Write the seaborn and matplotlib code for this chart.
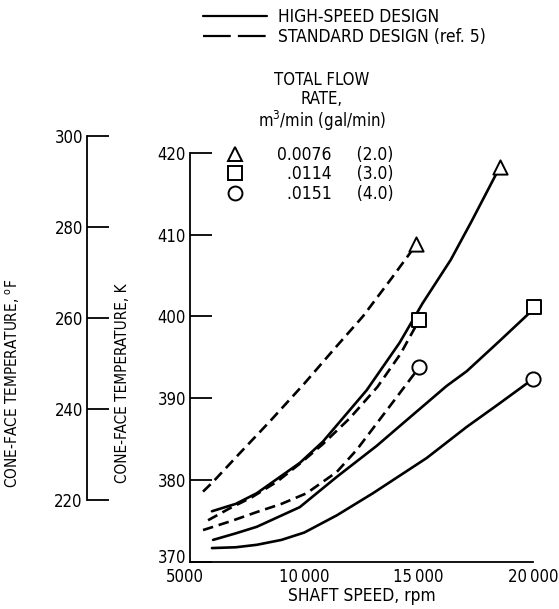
import matplotlib
matplotlib.use("Agg")
import matplotlib.pyplot as plt
import matplotlib.transforms as mtransforms
from matplotlib.lines import Line2D
import seaborn as sns
import pandas as pd

# shaft speed (rpm) and cone-face temperature (K)
hs_0076_speed = [5960, 7000, 7920, 9800, 10810, 12730, 14170, 15170, 16400, 17310, 18540]
hs_0076_temp = [376.2, 377.1, 378.4, 382.1, 384.7, 391.0, 396.8, 401.6, 406.9, 411.6, 418.2]
std_0076_speed = [5570, 6010, 7180, 8500, 10000, 11300, 12560, 13800, 14900]
std_0076_temp = [378.6, 379.8, 383.3, 387.2, 391.8, 396.0, 400.0, 404.6, 408.8]

hs_0114_speed = [6010, 7000, 7920, 9800, 11420, 13170, 14170, 16220, 17100, 18500, 19760, 20050]
hs_0114_temp = [372.7, 373.5, 374.3, 376.7, 380.4, 384.2, 386.6, 391.5, 393.3, 396.9, 400.2, 401.1]
std_0114_speed = [5790, 6700, 7700, 8800, 9800, 10810, 12000, 13200, 14200, 15030]
std_0114_temp = [375.1, 376.5, 377.9, 379.8, 382.0, 384.4, 387.6, 391.4, 395.4, 399.6]

hs_0151_speed = [5960, 7000, 7920, 9000, 10000, 11420, 13000, 15350, 17100, 18500, 20020]
hs_0151_temp = [371.7, 371.8, 372.1, 372.7, 373.6, 375.7, 378.4, 382.7, 386.5, 389.3, 392.4]
std_0151_speed = [5570, 6800, 7920, 9000, 10100, 11420, 12290, 13730, 15030]
std_0151_temp = [373.9, 375.0, 376.1, 377.1, 378.4, 381.0, 383.7, 389.0, 393.8]

# U+2007 is a digit-wide space so the gal/min column lines up
rate_labels = ["0.0076     (2.0)", "\u2007.0114     (3.0)", "\u2007.0151     (4.0)"]
rate_markers = ["^", "s", "o"]
design_labels = ["HIGH-SPEED DESIGN", "STANDARD DESIGN (ref. 5)"]

x_ticks = [5000, 10000, 15000, 20000]
x_ticklabels = ["5000", "10\u2009000", "15\u2009000", "20\u2009000"]
k_ticks = [370, 380, 390, 400, 410, 420]
f_ticks = [220, 240, 260, 280, 300]


def k_to_f(k):
    return k * 9.0 / 5.0 - 459.67


def f_to_k(f):
    return (f + 459.67) * 5.0 / 9.0


curves = [
    (hs_0076_speed, hs_0076_temp, "solid", 0),
    (std_0076_speed, std_0076_temp, "dashed", 0),
    (hs_0114_speed, hs_0114_temp, "solid", 1),
    (std_0114_speed, std_0114_temp, "dashed", 1),
    (hs_0151_speed, hs_0151_temp, "solid", 2),
    (std_0151_speed, std_0151_temp, "dashed", 2),
]

sns.set_theme(style="white")
plt.rcParams["font.family"] = ["DejaVu Sans"]
plt.rcParams["font.stretch"] = "condensed"
plt.rcParams["text.color"] = "black"
plt.rcParams["axes.labelcolor"] = "black"
plt.rcParams["xtick.color"] = "black"
plt.rcParams["ytick.color"] = "black"

fs = 11

fig = plt.figure(figsize=(5.59, 6.09), dpi=100)
ax = fig.add_axes([190 / 559, 1 - 562 / 609, 343 / 559, (562 - 136) / 609])

lw = 1.9
for speed, temp, style, m in curves:
    df = pd.DataFrame({"speed": speed, "temp": temp})
    sns.lineplot(data=df, x="speed", y="temp", ax=ax, color="black",
                 lw=lw, sort=False, estimator=None)
    ln = ax.lines[-1]
    if style == "dashed":
        ln.set_dashes((4.0, 2.2))
    end = df.iloc[[-1]]
    sns.scatterplot(data=end, x="speed", y="temp", ax=ax, marker=rate_markers[m],
                    s=105, facecolor="white", edgecolor="black", linewidth=1.4,
                    zorder=5, clip_on=False)

ax.set_xlim(5000, 20000)
ax.set_ylim(370, f_to_k(300))
ax.set_xticks(x_ticks)
ax.set_xticklabels(x_ticklabels)
ax.set_yticks(k_ticks)
ax.spines["left"].set_bounds(370, 420)
for s in ["top", "right"]:
    ax.spines[s].set_visible(False)
for s in ["left", "bottom"]:
    ax.spines[s].set_color("black")
    ax.spines[s].set_linewidth(1.3)
ax.tick_params(axis="both", direction="in", length=16, width=1.3,
               labelsize=fs + 1, pad=3)
ax.tick_params(axis="x", pad=4)
ax.tick_params(axis="y", left=True)
ax.set_xlabel("SHAFT SPEED, rpm", fontsize=fs + 1.5, va="center")
ax.set_ylabel("CONE-FACE TEMPERATURE, K", fontsize=fs)
ax.xaxis.set_label_coords(0.5, -0.079)
ax.yaxis.set_label_coords(-0.175, 0.42)
ax.grid(False)

# lift the lowest K label a little off the x labels
fig.canvas.draw()
lab370 = ax.get_yticklabels()[0]
lab370.set_transform(lab370.get_transform()
                     + mtransforms.ScaledTranslation(0, 4 / 72, fig.dpi_scale_trans))
lab5000 = ax.get_xticklabels()[0]
lab5000.set_transform(lab5000.get_transform()
                      + mtransforms.ScaledTranslation(-4 / 72, 0, fig.dpi_scale_trans))

# Fahrenheit scale on a second spine
axf = ax.twinx()
axf.set_ylim(k_to_f(370), k_to_f(f_to_k(300)))
axf.yaxis.tick_left()
axf.yaxis.set_label_position("left")
axf.spines["left"].set_position(("axes", -(190 - 87) / 343))
axf.spines["left"].set_bounds(220, 300)
axf.spines["left"].set_color("black")
axf.spines["left"].set_linewidth(1.3)
for s in ["top", "right", "bottom"]:
    axf.spines[s].set_visible(False)
axf.set_yticks(f_ticks)
axf.tick_params(axis="y", direction="in", length=16, width=1.3,
                labelsize=fs + 1, pad=3)
axf.set_ylabel("CONE-FACE TEMPERATURE, $^{\\mathrm{o}}$F", fontsize=fs)
axf.yaxis.set_label_coords(-0.49, 0.42)
axf.grid(False)

# legends
style_handles = [Line2D([], [], color="black", lw=1.6),
                 Line2D([], [], color="black", lw=1.6, dashes=(12.5, 3.2))]
fig.legend(style_handles, design_labels, loc="upper left",
           bbox_to_anchor=(196 / 559, 1 - 1 / 609), frameon=False,
           handlelength=3.7, handletextpad=0.65, labelspacing=0.12, fontsize=fs + 1.5,
           borderaxespad=0)

fig.text(322 / 559, 1 - 71 / 609, "TOTAL FLOW\nRATE,\nm$^3$/min (gal/min)",
         ha="center", va="top", fontsize=fs + 1, linespacing=1.05)

rate_handles = [Line2D([], [], ls="none", marker=mk, markersize=10,
                       markerfacecolor="white", markeredgecolor="black",
                       markeredgewidth=1.4) for mk in rate_markers]
fig.legend(rate_handles, rate_labels, loc="upper left",
           bbox_to_anchor=(220 / 559, 1 - 139 / 609), frameon=False,
           handlelength=0.9, handletextpad=2.0, labelspacing=0.08, fontsize=fs + 1.5,
           borderaxespad=0)

fig.savefig("out.png", dpi=100)
